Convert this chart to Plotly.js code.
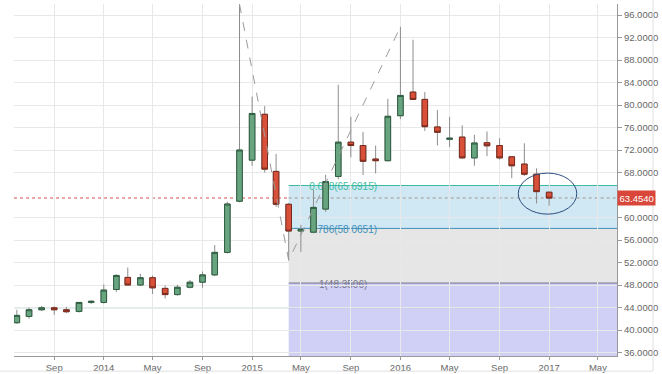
<!DOCTYPE html>
<html>
<head>
<meta charset="utf-8">
<script src="https://cdn.plot.ly/plotly-3.0.1.min.js"></script>
<style>html,body{margin:0;padding:0;background:#fff;}#chart{width:662px;height:374px;}</style>
</head>
<body>
<div id="chart"></div>
<script>
// ---- data (monthly candles) ----
var months = ['2013-06-01','2013-07-01','2013-08-01','2013-09-01','2013-10-01','2013-11-01','2013-12-01',
  '2014-01-01','2014-02-01','2014-03-01','2014-04-01','2014-05-01','2014-06-01','2014-07-01','2014-08-01','2014-09-01','2014-10-01','2014-11-01','2014-12-01',
  '2015-01-01','2015-02-01','2015-03-01','2015-04-01','2015-05-01','2015-06-01','2015-07-01','2015-08-01','2015-09-01','2015-10-01','2015-11-01','2015-12-01',
  '2016-01-01','2016-02-01','2016-03-01','2016-04-01','2016-05-01','2016-06-01','2016-07-01','2016-08-01','2016-09-01','2016-10-01','2016-11-01','2016-12-01',
  '2017-01-01'];
var openV  = [41.3,42.4,43.6,43.95,43.6,43.3,44.9, 44.9,47.2,49.35,48.0,49.3,47.4,46.3,47.6,48.5,49.8,53.8,62.9, 70.2,78.35,68.2,62.35,57.6,57.4,61.5,67.3,73.4,72.8,70.4,70.1, 78.1,82.3,81.0,76.1,73.9,74.3,70.6,73.3,72.8,70.8,69.5,67.7, 64.5];
var highV  = [43.6,44.0,44.3,44.2,44.1,44.95,45.3, 48.1,49.9,51.1,50.0,49.7,47.95,48.05,48.9,50.4,55.1,62.8,97.9, 81.5,79.8,71.3,62.6,58.7,64.9,67.6,83.6,77.9,75.2,72.8,81.1, 93.9,91.6,82.3,79.1,77.9,76.4,74.7,75.3,74.1,70.9,73.2,68.75, 64.6];
var lowV   = [41.1,42.0,43.4,42.7,43.0,43.1,44.6, 44.7,46.8,48.0,47.8,46.4,45.6,46.1,47.4,47.5,49.6,53.6,62.7, 69.2,68.0,61.9,52.4,53.9,57.2,61.0,66.8,70.7,67.55,67.85,70.0, 77.5,80.9,75.4,72.8,72.5,70.4,69.2,70.9,70.3,67.0,67.4,62.5, 62.1];
var closeV = [42.6,43.6,43.95,43.6,43.25,44.9,45.1, 47.1,49.7,48.0,49.3,47.5,46.3,47.6,48.5,49.8,53.8,62.4,72.0, 78.5,68.6,62.35,57.6,57.9,61.8,66.4,73.4,72.8,70.0,70.1,78.0, 81.7,81.0,76.15,75.15,74.1,70.6,73.25,72.75,70.6,69.2,67.7,64.6, 63.454];

// zigzag pivots
var zigDates  = ['2014-12-01','2015-04-01','2016-01-01'];
var zigValues = [97.9, 52.4, 93.9];

// fibonacci levels
var fibRatios = ['0.618','0.786','1'];
var fibValues = [65.6915, 58.0651, 48.3506];
var fibStart = '2015-04-01';

var lastPrice = 63.4540;
var supportLevel = 43.95;

// axis ticks
var xTickVals = ['2013-09-01','2014-01-01','2014-05-01','2014-09-01','2015-01-01','2015-05-01','2015-09-01','2016-01-01','2016-05-01','2016-09-01','2017-01-01','2017-05-01'];
var xTickText = ['Sep','2014','May','Sep','2015','May','Sep','2016','May','Sep','2017','May'];
var yTickVals = [36,40,44,48,52,56,60,68,72,76,80,84,88,92,96];

// ---- build ----
var xMin = '2013-05-25', xMax = '2017-06-17';
var yMin = 35.38, yMax = 97.96;

var bodyHigh = openV.map(function(o,i){return Math.max(o, closeV[i]);});
var bodyLow  = openV.map(function(o,i){return Math.min(o, closeV[i]);});

var wicks = {
  type:'candlestick', x:months, open:openV, high:highV, low:lowV, close:closeV,
  increasing:{line:{color:'#8c8c8c', width:1}, fillcolor:'#8c8c8c'},
  decreasing:{line:{color:'#8c8c8c', width:1}, fillcolor:'#8c8c8c'},
  hoverinfo:'skip', showlegend:false
};
var bodies = {
  type:'candlestick', x:months, open:openV, high:bodyHigh, low:bodyLow, close:closeV,
  increasing:{line:{color:'#2f5e40', width:1}, fillcolor:'#67a47f'},
  decreasing:{line:{color:'#7a2a1c', width:1}, fillcolor:'#d9503a'},
  hoverinfo:'skip', showlegend:false
};
var zig = {
  type:'scatter', mode:'lines', x:zigDates, y:zigValues,
  line:{color:'#9a9a9a', width:1, dash:'dash'}, hoverinfo:'skip', showlegend:false
};

var fibLineColors = ['#3dbba2','#3f8fb8','#6f6f8e'];
var fibTextColors = ['#3dbba2','#3f8fb8','#77778f'];
var fibFills = ['rgba(100,180,220,0.30)','rgba(128,128,128,0.20)','rgba(100,100,230,0.30)'];

var shapes = [];
// fills
var fillBounds = [[fibValues[1], fibValues[0]], [fibValues[2], fibValues[1]], [yMin, fibValues[2]]];
fillBounds.forEach(function(b,i){
  shapes.push({type:'rect', layer:'below', xref:'x', yref:'y', x0:fibStart, x1:xMax, y0:b[0], y1:b[1],
    fillcolor:fibFills[i], line:{width:0}});
});
// fib lines + labels
fibValues.forEach(function(v,i){
  shapes.push({type:'line', layer:'below', xref:'x', yref:'y', x0:fibStart, x1:xMax, y0:v, y1:v,
    line:{color:fibLineColors[i], width:1}});
  shapes.push({type:'line', layer:'below', xref:'x', yref:'y', x0:'2015-06-20', x1:'2015-10-06', y0:v, y1:v,
    line:{color:'rgba(0,0,0,0)', width:0},
    label:{text:fibRatios[i]+'('+v.toFixed(4)+')', textposition:'middle', xanchor:'center', yanchor:'middle',
      font:{color:fibTextColors[i], size:10, family:'Liberation Sans Narrow, Liberation Sans, Arial, sans-serif'}}});
});
// support line
shapes.push({type:'line', layer:'below', xref:'x', yref:'y', x0:xMin, x1:'2017-01-15', y0:supportLevel, y1:supportLevel,
  line:{color:'#a3c9cc', width:1}});
// last price dotted
shapes.push({type:'line', layer:'below', xref:'x', yref:'y', x0:xMin, x1:fibStart, y0:lastPrice, y1:lastPrice,
  line:{color:'#e58a8a', width:1.5, dash:'dot'}});
shapes.push({type:'line', layer:'below', xref:'x', yref:'y', x0:fibStart, x1:xMax, y0:lastPrice, y1:lastPrice,
  line:{color:'#b0b0b0', width:1.5, dash:'dot'}});
// ellipse
shapes.push({type:'circle', xref:'x', yref:'y', x0:'2016-10-17', x1:'2017-03-10', y0:60.6, y1:67.9,
  line:{color:'#2d4d7e', width:1}});
// outer frame
shapes.push({type:'line', xref:'paper', yref:'paper', x0:1.0597, x1:1.0597, y0:-0.043, y1:1.02, line:{color:'#e0e0e0', width:1}});
shapes.push({type:'line', xref:'paper', yref:'paper', x0:-0.03, x1:1.0597, y0:-0.043, y1:-0.043, line:{color:'#e0e0e0', width:1}});

var tickFont = {family:'Liberation Sans Narrow, Liberation Sans, Arial, sans-serif', size:9.5, color:'#666'};

var layout = {
  width:662, height:374,
  margin:{l:14, r:45, t:4, b:18},
  paper_bgcolor:'#fff', plot_bgcolor:'#fff',
  showlegend:false, hovermode:false, dragmode:false,
  font:{family:'Liberation Sans Narrow, Liberation Sans, Arial, sans-serif'},
  xaxis:{type:'date', range:[xMin, xMax], tickvals:xTickVals, ticktext:xTickText,
    showgrid:true, gridcolor:'#e8e8e8', gridwidth:1, zeroline:false,
    showline:true, linecolor:'#999', linewidth:1, ticks:'outside', ticklen:3, tickcolor:'#999',
    tickfont:tickFont, rangeslider:{visible:false}, fixedrange:true},
  yaxis:{side:'right', range:[yMin, yMax], tickmode:'array', tickvals:yTickVals,
    ticktext:yTickVals.map(function(v){return v.toFixed(4);}),
    showgrid:true, gridcolor:'#e8e8e8', gridwidth:1, zeroline:false,
    showline:true, linecolor:'#999', linewidth:1, ticks:'outside', ticklen:4, tickcolor:'#999',
    tickfont:tickFont, fixedrange:true},
  shapes:shapes,
  annotations:[{xref:'paper', yref:'y', x:1, y:lastPrice, xanchor:'left', yanchor:'middle', showarrow:false,
    text:lastPrice.toFixed(4), bgcolor:'#d9473a', borderpad:1.5,
    font:{family:'Liberation Sans Narrow, Liberation Sans, Arial, sans-serif', size:9.5, color:'#fff'}}]
};

Plotly.newPlot('chart', [wicks, bodies, zig], layout, {staticPlot:true, displayModeBar:false});
</script>
</body>
</html>
